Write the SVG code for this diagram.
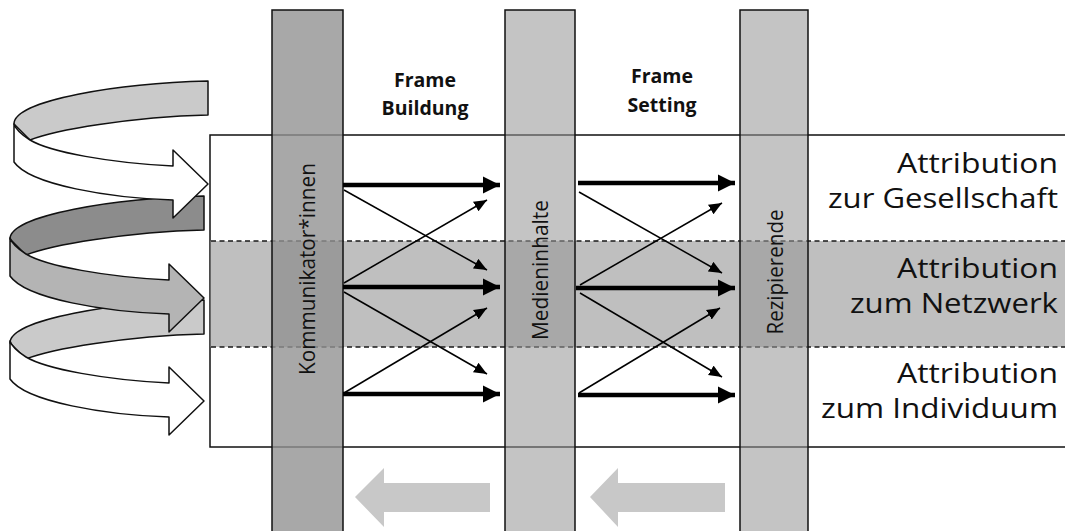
<svg xmlns="http://www.w3.org/2000/svg" width="1065" height="531" viewBox="0 0 1065 531">
<style>
.sp{stroke:#111;stroke-width:1.5;stroke-linejoin:round}
.col{stroke:#111;stroke-width:1.5}
.dash{stroke:#1a1a1a;stroke-width:1.5;stroke-dasharray:5,3.5;fill:none}
.frame{font-family:"Open Sans","Noto Sans",sans-serif;font-weight:bold;font-size:19.5px;fill:#111;text-anchor:middle}
.attr{font-family:"Open Sans","Noto Sans",sans-serif;font-size:27px;fill:#111;text-anchor:end}
.vl{font-family:"Open Sans","Noto Sans",sans-serif;font-size:21px;fill:#111;text-anchor:middle}
.thick{stroke:#000;stroke-width:4.5;fill:none}
.thin{stroke:#000;stroke-width:1.5;fill:none}
.back{fill:#c8c8c8}
</style>
<defs>
<marker id="hb" markerUnits="userSpaceOnUse" markerWidth="18" markerHeight="18" viewBox="0 0 18 18" refX="17" refY="9" orient="auto"><path d="M0,0.5 L17,9 L0,17.5 Z" fill="#000"/></marker>
<marker id="hs" markerUnits="userSpaceOnUse" markerWidth="14" markerHeight="12" viewBox="0 0 14 12" refX="13" refY="6" orient="auto"><path d="M0,0.5 L13,6 L0,11.5 Z" fill="#000"/></marker>
<g id="spiralBack"><path class="sp" d="M208,81 C120,83 14,100 14,124 L30,140 C55,130 130,117 208,115 Z"/></g>
<g id="spiralFront"><path class="sp" d="M14,124 L14,162 C30,185 110,198 173,200 L173,218 L208,184 L173,150 L173,166 C110,163 50,152 30,140 C22,135 16,130 14,124 Z"/></g>
</defs>

<!-- main frame -->
<g id="main-frame">
<rect x="210" y="135" width="870" height="312" fill="#fff" stroke="#111" stroke-width="1.5"/>
<rect x="210.75" y="241" width="860" height="106" fill="#bfbfbf"/>
<line class="dash" x1="211" y1="241" x2="1065" y2="241"/>
<line class="dash" x1="211" y1="347" x2="1065" y2="347"/>
</g>

<!-- spiral arrows -->
<g id="spiral-1"><use href="#spiralBack" fill="#cacaca"/></g>
<g id="spiral-2"><use href="#spiralBack" transform="translate(-4,115)" fill="#8c8c8c"/></g>
<g id="spiral-3"><use href="#spiralBack" transform="translate(-4,219)" fill="#cacaca"/></g>
<g id="spiral-1-front"><use href="#spiralFront" fill="#fff"/></g>
<g id="spiral-2-front"><use href="#spiralFront" transform="translate(-4,114)" fill="#b4b4b4"/></g>
<g id="spiral-3-front"><use href="#spiralFront" transform="translate(-4,217)" fill="#fff"/></g>

<!-- columns -->
<g id="kommunikator">
<rect class="col" x="272" y="10" width="71" height="530" fill="rgba(146,146,146,0.8)"/>
<text class="vl" transform="translate(315,269) rotate(-90)" textLength="212" lengthAdjust="spacingAndGlyphs">Kommunikator*innen</text>
</g>
<g id="medieninhalte">
<rect class="col" x="505" y="10" width="70" height="530" fill="rgba(150,150,150,0.56)"/>
<text class="vl" transform="translate(548,270) rotate(-90)" textLength="140" lengthAdjust="spacingAndGlyphs">Medieninhalte</text>
</g>
<g id="rezipierende">
<rect class="col" x="740" y="10" width="68" height="530" fill="rgba(150,150,150,0.56)"/>
<text class="vl" transform="translate(783,272) rotate(-90)" textLength="125" lengthAdjust="spacingAndGlyphs">Rezipierende</text>
</g>

<!-- labels -->
<g id="frame-building"><text class="frame" x="425" y="87">Frame</text><text class="frame" x="425" y="115">Buildung</text></g>
<g id="frame-setting"><text class="frame" x="662" y="83">Frame</text><text class="frame" x="662" y="112">Setting</text></g>
<g id="attr-gesellschaft"><text class="attr" x="1058" y="173" textLength="161" lengthAdjust="spacingAndGlyphs">Attribution</text><text class="attr" x="1058" y="208" textLength="230" lengthAdjust="spacingAndGlyphs">zur Gesellschaft</text></g>
<g id="attr-netzwerk"><text class="attr" x="1058" y="278" textLength="161" lengthAdjust="spacingAndGlyphs">Attribution</text><text class="attr" x="1058" y="313" textLength="208" lengthAdjust="spacingAndGlyphs">zum Netzwerk</text></g>
<g id="attr-individuum"><text class="attr" x="1058" y="383" textLength="161" lengthAdjust="spacingAndGlyphs">Attribution</text><text class="attr" x="1058" y="418" textLength="237" lengthAdjust="spacingAndGlyphs">zum Individuum</text></g>

<!-- connectors -->
<g id="connectors">
<line class="thick" x1="343" y1="185" x2="500" y2="185" marker-end="url(#hb)"/>
<line class="thick" x1="343" y1="287" x2="500" y2="287" marker-end="url(#hb)"/>
<line class="thick" x1="343" y1="394" x2="500" y2="394" marker-end="url(#hb)"/>
<line class="thin" x1="344" y1="190" x2="487" y2="270" marker-end="url(#hs)"/>
<line class="thin" x1="344" y1="283" x2="487" y2="200" marker-end="url(#hs)"/>
<line class="thin" x1="344" y1="292" x2="487" y2="374" marker-end="url(#hs)"/>
<line class="thin" x1="344" y1="393" x2="487" y2="308" marker-end="url(#hs)"/>
<line class="thick" x1="578" y1="183" x2="735" y2="183" marker-end="url(#hb)"/>
<line class="thick" x1="576" y1="288" x2="735" y2="288" marker-end="url(#hb)"/>
<line class="thick" x1="578" y1="395" x2="735" y2="395" marker-end="url(#hb)"/>
<line class="thin" x1="579" y1="192" x2="722" y2="273" marker-end="url(#hs)"/>
<line class="thin" x1="580" y1="285" x2="722" y2="203" marker-end="url(#hs)"/>
<line class="thin" x1="580" y1="293" x2="722" y2="377" marker-end="url(#hs)"/>
<line class="thin" x1="579" y1="393" x2="720" y2="308" marker-end="url(#hs)"/>
<polygon class="back" points="355,497 384,468 384,483 490,483 490,512 384,512 384,527"/>
<polygon class="back" points="590,497 618,468 618,483 725,483 725,512 618,512 618,527"/>
</g>
</svg>
